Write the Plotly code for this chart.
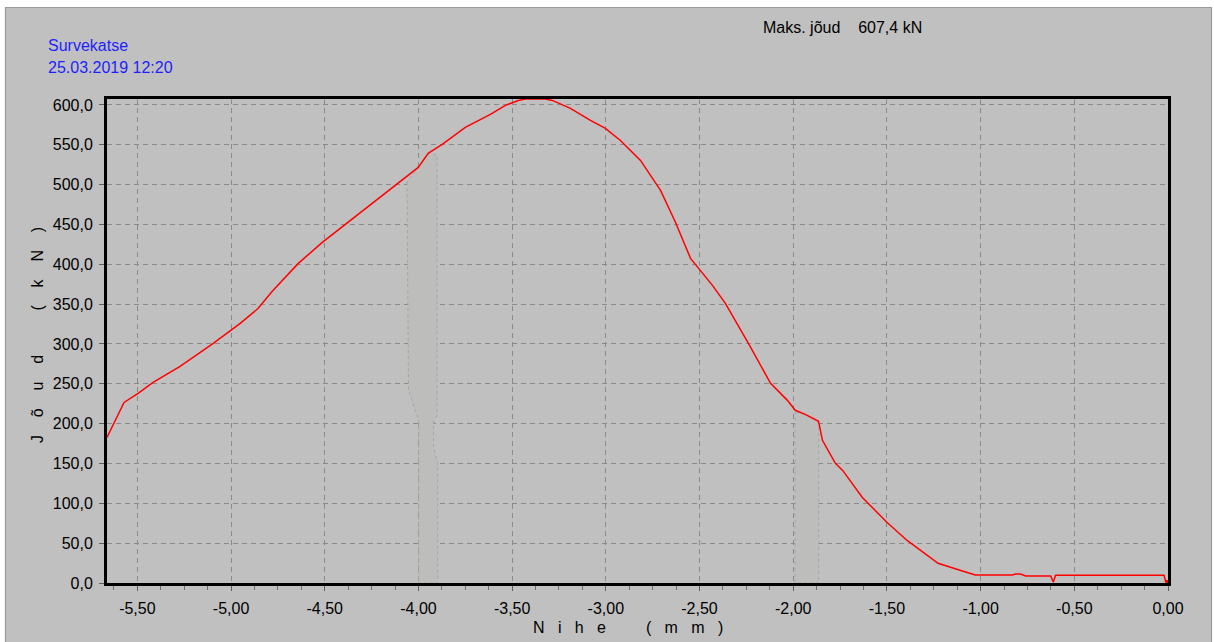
import plotly.graph_objects as go

# --- Force / displacement record -------------------------------------------
nihe_mm = [-5.662, -5.571, -5.496, -5.416, -5.272, -5.095, -4.951, -4.855, -4.780,
           -4.641, -4.513, -4.390, -4.257, -4.108, -4.001, -3.948, -3.873, -3.750,
           -3.616, -3.536, -3.467, -3.430, -3.323, -3.285, -3.189, -3.082, -3.002,
           -2.922, -2.815, -2.708, -2.628, -2.548, -2.495, -2.431, -2.362, -2.239,
           -2.121, -2.031, -1.989, -1.936, -1.865, -1.844, -1.775, -1.735, -1.631,
           -1.499, -1.392, -1.227, -1.110, -1.028, -0.831, -0.813, -0.787, -0.760,
           -0.626, -0.612, -0.600, -0.021, -0.012, 0.0]
joud_kn = [182.8, 226.6, 237.9, 251.8, 271.8, 300.8, 325.8, 344.7, 366.0,
           401.1, 427.5, 450.1, 475.2, 501.5, 521.6, 539.1, 550.4, 571.8,
           588.1, 599.4, 605.6, 607.4, 607.4, 605.6, 595.6, 580.6, 570.5,
           555.4, 530.3, 492.7, 452.5, 407.4, 392.3, 373.5, 350.9, 300.8,
           250.6, 229.2, 216.7, 211.7, 202.9, 179.1, 150.2, 141.0, 107.4,
           76.0, 53.4, 24.7, 15.9, 10.0, 10.0, 11.3, 11.3, 8.8,
           8.8, 1.3, 9.7, 9.7, 1.3, 1.3]

# Faded unloading/reloading loops (grey background traces)
loop1_x = [-4.061, -4.053, -4.017, -3.999, -3.999, -3.897, -3.897, -3.919,
           -3.919, -3.901, -3.901, -3.948, -4.001, -4.061]
loop1_y = [503.0, 241.8, 216.7, 204.0, 0.0, 0.0, 150.0, 170.0,
           204.0, 210.0, 537.0, 539.1, 521.6, 503.0]
loop2_x = [-1.990, -1.990, -1.864, -1.864, -1.936, -1.990]
loop2_y = [215.0, 0.0, 0.0, 203.0, 211.7, 215.0]

x_ticks = [-5.5, -5.0, -4.5, -4.0, -3.5, -3.0, -2.5, -2.0, -1.5, -1.0, -0.5, 0.0]
x_labels = ["-5,50", "-5,00", "-4,50", "-4,00", "-3,50", "-3,00", "-2,50",
            "-2,00", "-1,50", "-1,00", "-0,50", "0,00"]
y_ticks = [0, 50, 100, 150, 200, 250, 300, 350, 400, 450, 500, 550, 600]
y_labels = ["0,0", "50,0", "100,0", "150,0", "200,0", "250,0", "300,0",
            "350,0", "400,0", "450,0", "500,0", "550,0", "600,0"]

maks_joud = 607.4

FONT = "Liberation Sans, Arial, sans-serif"
W, H = 1214, 642
ML, MR, MT, MB = 107, 46, 99, 59
PW, PH = W - ML - MR, H - MT - MB


def px(x):
    return (x - ML) / PW


def py(y):
    return (H - MB - y) / PH


fig = go.Figure()

for lx, ly in ((loop1_x, loop1_y), (loop2_x, loop2_y)):
    fig.add_trace(go.Scatter(
        x=lx, y=ly, mode="lines", fill="toself", fillcolor="#bdbdbb",
        line=dict(color="#a4a4a4", width=1, dash="dot"),
        hoverinfo="skip", showlegend=False))

fig.add_trace(go.Scatter(
    x=nihe_mm, y=joud_kn, mode="lines",
    line=dict(color="#ff0000", width=1.5),
    hoverinfo="skip", showlegend=False))

# End-of-record marker at the origin
fig.add_trace(go.Scatter(
    x=[nihe_mm[-1]], y=[joud_kn[-1]], mode="markers",
    marker=dict(color="#ff0000", size=4, symbol="square"),
    hoverinfo="skip", showlegend=False))

nb = "\u00a0"
x_title = (nb * 3).join("Nihe") + nb * 9 + (nb * 3).join("(mm)")
y_title = (nb * 4).join("Jõud") + nb * 10 + (nb * 4).join("(kN)")

annotations = [
    dict(text="Survekatse", x=px(46), y=py(46), xanchor="left", yanchor="middle",
         font=dict(color="#1e1eff", size=16, family=FONT)),
    dict(text="25.03.2019 12:20", x=px(46), y=py(67), xanchor="left", yanchor="middle",
         font=dict(color="#1e1eff", size=16, family=FONT)),
    dict(text="Maks. jõud" + nb * 4 + f"{maks_joud:.1f}".replace(".", ",") + " kN",
         x=px(761), y=py(27), xanchor="left", yanchor="middle",
         font=dict(color="#000000", size=16, family=FONT)),
    dict(text=x_title, x=px(628), y=py(627), xanchor="center", yanchor="middle",
         font=dict(color="#000000", size=16, family=FONT)),
    dict(text=y_title, x=px(37), y=py(335), xanchor="center", yanchor="middle",
         textangle=-90, font=dict(color="#000000", size=16, family=FONT)),
]
for a in annotations:
    a.update(xref="paper", yref="paper", showarrow=False)

# Window frame: light edges on top/left/right, grey panel
shapes = [
    dict(type="rect", x0=px(0), x1=px(W), y0=py(0), y1=py(H),
         fillcolor="#ffffff", line=dict(width=0), layer="below"),
    dict(type="rect", x0=px(5.5), x1=px(1211.5), y0=py(7.5), y1=py(H + 5),
         fillcolor="#c0c0c0", line=dict(color="#9a9a9a", width=1.2), layer="below"),
]
for s in shapes:
    s.update(xref="paper", yref="paper")

fig.update_layout(
    width=W, height=H,
    margin=dict(l=ML, r=MR, t=MT, b=MB),
    paper_bgcolor="#c0c0c0", plot_bgcolor="#b4b4bb",
    font=dict(family=FONT, size=16, color="#000000"),
    annotations=annotations, shapes=shapes,
    showlegend=False, hovermode=False,
)

fig.update_xaxes(
    range=[-5.662, 0], tickmode="array", tickvals=x_ticks, ticktext=x_labels,
    ticks="outside", ticklen=5, tickcolor="#606060", tickwidth=1,
    ticklabelstandoff=4,
    showgrid=True, gridcolor="#8a8a8a", gridwidth=1, griddash="5px,4px",
    minor=dict(tick0=0, dtick=0.125, ticks="outside", ticklen=4,
               tickcolor="#707070", showgrid=False),
    showline=True, linecolor="#000000", linewidth=3, mirror=True,
    zeroline=False, tickfont=dict(size=16, family=FONT, color="#000000"),
)
fig.update_yaxes(
    range=[0, maks_joud], tickmode="array", tickvals=y_ticks, ticktext=y_labels,
    ticks="outside", ticklen=5, tickcolor="#606060", tickwidth=1,
    ticklabelstandoff=3,
    showgrid=True, gridcolor="#8a8a8a", gridwidth=1, griddash="5px,4px",
    showline=True, linecolor="#000000", linewidth=3, mirror=True,
    zeroline=False, tickfont=dict(size=16, family=FONT, color="#000000"),
)

fig.write_html("out.html")
